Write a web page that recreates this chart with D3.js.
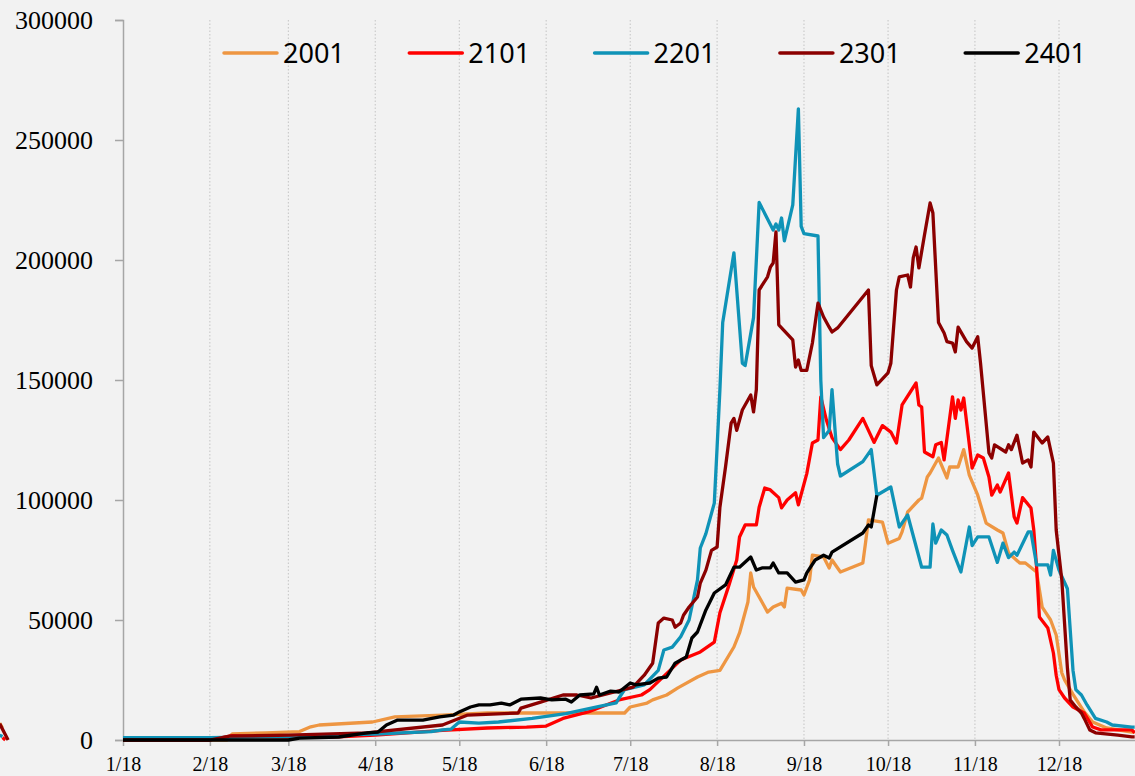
<!DOCTYPE html>
<html>
<head>
<meta charset="utf-8">
<script src="https://cdn.jsdelivr.net/npm/d3@7"></script>
<style>
  html, body { margin: 0; padding: 0; background: #f2f2f2; }
  svg { display: block; }
</style>
</head>
<body>
<svg id="chart" width="1135" height="776"></svg>
<script>
// ---------------- DATA ----------------
const seriesNames = ["2001", "2101", "2201", "2301", "2401"];
const seriesColors = ["#ee9642", "#ff0000", "#0f93b7", "#8b0000", "#000000"];

const tickDates = ["2023-01-18","2023-02-18","2023-03-18","2023-04-18","2023-05-18","2023-06-18",
                   "2023-07-18","2023-08-18","2023-09-18","2023-10-18","2023-11-18","2023-12-18"];
const tickLabels = ["1/18","2/18","3/18","4/18","5/18","6/18","7/18","8/18","9/18","10/18","11/18","12/18"];
const yTicks = [0, 50000, 100000, 150000, 200000, 250000, 300000];

// null marks a break in the line
const s2001 = [
  ["2022-12-05",7000],["2022-12-06",5000],null,
  ["2023-01-18",0],["2023-02-24",0],["2023-02-26",2500],["2023-03-10",3000],["2023-03-22",3500],
  ["2023-03-26",5500],["2023-03-29",6250],["2023-04-17",7500],["2023-04-25",9600],["2023-05-12",10400],
  ["2023-05-28",11250],["2023-06-11",11250],["2023-06-25",11250],["2023-07-04",11250],["2023-07-16",11250],
  ["2023-07-18",13750],["2023-07-24",15400],["2023-07-26",16700],["2023-07-31",18750],["2023-08-04",21700],
  ["2023-08-11",26250],["2023-08-15",28300],["2023-08-19",29000],["2023-08-24",38750],["2023-08-26",44600],
  ["2023-08-29",57500],["2023-08-30",69600],["2023-08-31",63750],["2023-09-05",53300],["2023-09-07",55400],
  ["2023-09-10",57000],["2023-09-11",55400],["2023-09-12",63300],["2023-09-17",62500],["2023-09-18",60400],
  ["2023-09-20",66700],["2023-09-21",77000],["2023-09-25",76250],["2023-09-27",71700],["2023-09-28",75000],
  ["2023-10-01",70000],["2023-10-09",73750],["2023-10-10",82500],["2023-10-11",91700],["2023-10-16",90800],
  ["2023-10-18",82000],["2023-10-22",84000],["2023-10-23",86700],["2023-10-25",95000],["2023-10-29",100000],
  ["2023-10-30",100800],["2023-11-01",109600],["2023-11-02",111250],["2023-11-05",117500],["2023-11-08",109200],
  ["2023-11-09",113750],["2023-11-12",113750],["2023-11-14",121000],["2023-11-16",110400],["2023-11-19",102000],
  ["2023-11-22",90400],["2023-11-26",87500],["2023-11-28",86250],["2023-11-30",77900],["2023-12-04",73750],
  ["2023-12-06",73750],["2023-12-10",70000],["2023-12-12",55400],["2023-12-15",50000],["2023-12-17",43750],
  ["2023-12-19",28000],["2023-12-20",25000],["2023-12-23",19000],["2023-12-27",11700],["2023-12-30",7500],
  ["2024-01-04",5000],["2024-01-13",3300],["2024-01-14",3300]
];

const s2101 = [
  ["2022-12-06",1000],["2022-12-07",0],null,
  ["2023-01-18",0],["2023-02-18",0],["2023-02-26",1800],["2023-03-18",1200],["2023-04-03",1200],
  ["2023-04-18",2000],["2023-05-12",4000],["2023-05-28",5000],["2023-06-11",5400],["2023-06-18",5800],
  ["2023-06-24",9000],["2023-07-03",11700],["2023-07-14",16700],["2023-07-22",18750],["2023-07-25",21000],
  ["2023-08-05",33300],["2023-08-12",36700],["2023-08-17",40800],["2023-08-19",53000],["2023-08-22",63700],
  ["2023-08-25",75000],["2023-08-26",84600],["2023-08-28",89600],["2023-09-01",89600],["2023-09-02",97000],
  ["2023-09-04",105000],["2023-09-06",104200],["2023-09-09",101000],["2023-09-10",96700],["2023-09-12",100000],
  ["2023-09-15",103000],["2023-09-16",98000],["2023-09-19",111000],["2023-09-21",123750],["2023-09-23",125000],
  ["2023-09-24",143000],["2023-09-26",133300],["2023-09-28",126000],["2023-10-01",121000],["2023-10-04",125000],
  ["2023-10-09",134000],["2023-10-13",124000],["2023-10-16",131000],["2023-10-19",128300],["2023-10-21",123750],
  ["2023-10-23",139600],["2023-10-28",148750],["2023-10-29",139600],["2023-10-30",138750],["2023-10-31",120000],
  ["2023-11-03",118000],["2023-11-04",123000],["2023-11-06",124000],["2023-11-07",116700],["2023-11-10",143000],
  ["2023-11-11",134000],["2023-11-12",141700],["2023-11-13",137500],["2023-11-14",142500],["2023-11-17",113300],
  ["2023-11-19",118750],["2023-11-21",117500],["2023-11-23",109600],["2023-11-24",102000],["2023-11-26",106250],
  ["2023-11-27",103300],["2023-11-30",111250],["2023-12-02",93000],["2023-12-03",90400],["2023-12-05",101000],
  ["2023-12-08",96700],["2023-12-09",87500],["2023-12-10",72000],["2023-12-11",51250],["2023-12-14",46700],
  ["2023-12-16",36250],["2023-12-17",27000],["2023-12-18",21000],["2023-12-20",17500],["2023-12-23",13750],
  ["2023-12-27",11250],["2023-12-30",5400],["2024-01-02",4200],["2024-01-13",4200],["2024-01-14",3000]
];

const s2201 = [
  ["2022-12-05",2000],["2022-12-06",1500],null,
  ["2023-01-18",1000],["2023-02-18",1000],["2023-03-18",1500],["2023-04-02",2000],["2023-04-18",2500],
  ["2023-05-08",3500],["2023-05-12",4200],["2023-05-15",4500],["2023-05-18",7500],["2023-05-25",7000],
  ["2023-06-01",7500],["2023-06-13",9000],["2023-06-25",11000],["2023-07-07",14000],["2023-07-13",15500],
  ["2023-07-14",17500],["2023-07-16",21000],["2023-07-23",23000],["2023-07-28",29000],["2023-07-30",37500],
  ["2023-08-02",38700],["2023-08-05",43000],["2023-08-08",50000],["2023-08-11",66700],["2023-08-12",80000],
  ["2023-08-14",86000],["2023-08-17",98700],["2023-08-18",122000],["2023-08-19",146000],["2023-08-20",174000],
  ["2023-08-24",203000],["2023-08-27",157000],["2023-08-28",156000],["2023-08-31",176000],["2023-09-02",224000],
  ["2023-09-07",212500],["2023-09-08",215000],["2023-09-09",212500],["2023-09-10",217500],["2023-09-11",208000],
  ["2023-09-14",223000],["2023-09-16",263000],["2023-09-17",214000],["2023-09-18",211000],["2023-09-23",210000],
  ["2023-09-24",150000],["2023-09-25",126000],["2023-09-27",129000],["2023-09-28",146000],["2023-09-30",115000],
  ["2023-10-01",110000],["2023-10-09",116000],["2023-10-12",121000],["2023-10-14",102000],["2023-10-19",105400],
  ["2023-10-22",88750],["2023-10-25",93750],["2023-10-30",72000],["2023-11-02",72000],["2023-11-03",90000],
  ["2023-11-04",82000],["2023-11-06",87500],["2023-11-08",85400],["2023-11-10",79000],["2023-11-13",70000],
  ["2023-11-16",88750],["2023-11-17",81000],["2023-11-19",84600],["2023-11-23",84600],["2023-11-26",74000],
  ["2023-11-28",82000],["2023-11-30",76000],["2023-12-02",78300],["2023-12-03",77000],["2023-12-07",86700],
  ["2023-12-08",86700],["2023-12-10",73000],["2023-12-14",73000],["2023-12-15",68750],["2023-12-16",79000],
  ["2023-12-18",70800],["2023-12-21",63000],["2023-12-23",29000],["2023-12-24",21000],["2023-12-26",18750],
  ["2023-12-28",14600],["2023-12-31",9000],["2024-01-04",7500],["2024-01-06",6250],["2024-01-13",5400],
  ["2024-01-14",5400]
];

const s2301 = [
  ["2022-12-05",6800],["2022-12-08",0],null,
  ["2023-01-18",0],["2023-02-18",0],["2023-02-25",1600],["2023-03-18",2000],["2023-04-15",3000],
  ["2023-05-12",6250],["2023-05-21",10400],["2023-06-08",11250],["2023-06-09",13300],["2023-06-16",15800],
  ["2023-06-24",18750],["2023-06-29",18750],["2023-07-04",17500],["2023-07-19",22000],["2023-07-23",27000],
  ["2023-07-26",32000],["2023-07-28",48750],["2023-07-30",50800],["2023-08-02",50000],["2023-08-03",47000],
  ["2023-08-05",48750],["2023-08-06",52000],["2023-08-08",55400],["2023-08-11",59600],["2023-08-12",65400],
  ["2023-08-14",70800],["2023-08-16",79000],["2023-08-18",80400],["2023-08-19",97000],["2023-08-21",113750],
  ["2023-08-23",132000],["2023-08-24",134000],["2023-08-25",129000],["2023-08-27",137500],["2023-08-30",143750],
  ["2023-08-31",136700],["2023-09-01",146000],["2023-09-02",187500],["2023-09-05",193000],["2023-09-06",197000],
  ["2023-09-07",198750],["2023-09-08",211700],["2023-09-09",173000],["2023-09-14",166700],["2023-09-15",155400],
  ["2023-09-16",158300],["2023-09-17",154000],["2023-09-19",154000],["2023-09-21",165400],["2023-09-23",182000],
  ["2023-09-25",176250],["2023-09-27",172000],["2023-09-28",170000],["2023-09-30",171700],["2023-10-11",187500],
  ["2023-10-12",156000],["2023-10-14",148000],["2023-10-18",153000],["2023-10-19",157000],["2023-10-21",187500],
  ["2023-10-22",193000],["2023-10-25",193750],["2023-10-26",188750],["2023-10-27",201000],["2023-10-28",205400],
  ["2023-10-29",196700],["2023-10-31",210400],["2023-11-02",223750],["2023-11-03",219600],["2023-11-05",174000],
  ["2023-11-07",169600],["2023-11-08",166000],["2023-11-10",165400],["2023-11-11",161700],["2023-11-12",172000],
  ["2023-11-15",166000],["2023-11-17",163300],["2023-11-19",168000],["2023-11-20",157000],["2023-11-23",119600],
  ["2023-11-24",117500],["2023-11-25",123000],["2023-11-29",120000],["2023-11-30",123000],["2023-12-01",121000],
  ["2023-12-03",127000],["2023-12-05",115400],["2023-12-07",116700],["2023-12-08",113750],["2023-12-09",128300],
  ["2023-12-12",123750],["2023-12-14",126250],["2023-12-16",115400],["2023-12-17",87500],["2023-12-19",66700],
  ["2023-12-21",30000],["2023-12-22",16700],["2023-12-24",13750],["2023-12-26",11250],["2023-12-27",9000],
  ["2023-12-29",4200],["2023-12-31",3000],["2024-01-08",2000],["2024-01-13",1300],["2024-01-14",1300]
];

const s2401 = [
  ["2023-01-18",0],["2023-03-18",0],["2023-03-22",800],["2023-04-05",1250],["2023-04-15",3000],
  ["2023-04-19",3300],["2023-04-22",6250],["2023-04-26",8300],["2023-05-05",8300],["2023-05-11",9600],
  ["2023-05-16",10400],["2023-05-18",11700],["2023-05-22",13750],["2023-05-25",14600],["2023-05-29",14600],
  ["2023-06-02",15400],["2023-06-05",14600],["2023-06-09",17000],["2023-06-16",17500],["2023-06-20",16700],
  ["2023-06-25",17000],["2023-06-27",15800],["2023-06-30",18750],["2023-07-05",19200],["2023-07-06",22000],
  ["2023-07-07",18750],["2023-07-11",20400],["2023-07-14",20000],["2023-07-18",23750],["2023-07-20",23000],
  ["2023-07-25",23750],["2023-07-28",25800],["2023-07-31",26250],["2023-08-03",32000],["2023-08-07",34600],
  ["2023-08-09",42500],["2023-08-11",45000],["2023-08-14",54200],["2023-08-17",61250],["2023-08-21",64600],
  ["2023-08-24",72000],["2023-08-26",72000],["2023-08-30",76250],["2023-09-01",70800],["2023-09-03",71700],
  ["2023-09-06",71700],["2023-09-07",73750],["2023-09-09",69600],["2023-09-12",69600],["2023-09-15",65800],
  ["2023-09-18",66700],["2023-09-19",69600],["2023-09-22",75000],["2023-09-25",77000],["2023-09-27",75800],
  ["2023-09-28",78300],["2023-10-09",86250],["2023-10-11",89600],["2023-10-12",88750],["2023-10-14",102000]
];

const allSeries = [s2001, s2101, s2201, s2301, s2401];

// ---------------- DRAW ----------------
const svg = d3.select("#chart");
const W = 1135, H = 776;
const parse = d3.utcParse("%Y-%m-%d");

svg.append("rect").attr("width", W).attr("height", H).attr("fill", "#f2f2f2");

const x = d3.scaleUtc()
  .domain([parse(tickDates[0]), parse(tickDates[tickDates.length - 1])])
  .range([123, 1059]);
const y = d3.scaleLinear().domain([0, 300000]).range([740, 20]);

// vertical dotted grid lines
svg.append("g").selectAll("line")
  .data(tickDates.slice(1))
  .join("line")
  .attr("x1", d => x(parse(d))).attr("x2", d => x(parse(d)))
  .attr("y1", y(300000)).attr("y2", y(0))
  .attr("stroke", "#c4c4c4").attr("stroke-width", 1)
  .attr("stroke-dasharray", "1.5,2");

// y axis
const yAxis = svg.append("g")
  .attr("transform", `translate(${x(parse(tickDates[0]))},0)`)
  .call(d3.axisLeft(y).tickValues(yTicks).tickSize(8).tickPadding(22).tickFormat(d3.format("d")));
yAxis.select(".domain").attr("stroke", "#a6a6a6").attr("stroke-width", 1.5);
yAxis.selectAll(".tick line").attr("stroke", "#a6a6a6").attr("stroke-width", 1.5);
yAxis.selectAll(".tick text")
  .attr("fill", "#000").style("font-family", "'Liberation Serif','Times New Roman',serif")
  .style("font-size", "26px");

// x axis
const xAxis = svg.append("g")
  .attr("transform", `translate(0,${y(0)})`)
  .call(d3.axisBottom(x).tickValues(tickDates.map(parse)).tickSize(6).tickPadding(11)
    .tickFormat((d, i) => tickLabels[i]));
xAxis.select(".domain").attr("stroke", "#a6a6a6").attr("stroke-width", 1.5)
  .attr("d", `M${x(parse(tickDates[0]))},0.5H${W}`);
xAxis.selectAll(".tick line").attr("stroke", "#a6a6a6").attr("stroke-width", 1.5);
xAxis.selectAll(".tick text")
  .attr("fill", "#000").style("font-family", "'Liberation Serif','Times New Roman',serif")
  .style("font-size", "20px");

// lines
const line = d3.line()
  .defined(d => d !== null)
  .x(d => x(parse(d[0])))
  .y(d => y(d[1]));

svg.append("g").selectAll("path")
  .data(allSeries)
  .join("path")
  .attr("d", line)
  .attr("fill", "none")
  .attr("stroke", (d, i) => seriesColors[i])
  .attr("stroke-width", 3.3)
  .attr("stroke-linejoin", "round");

// legend
const legend = svg.append("g");
seriesNames.forEach((name, i) => {
  const lx = 224 + i * 185.3;
  const g = legend.append("g").attr("transform", `translate(${lx},53)`);
  g.append("line").attr("x1", 0).attr("x2", 53).attr("y1", 0).attr("y2", 0)
    .attr("stroke", seriesColors[i]).attr("stroke-width", 3.5).attr("stroke-linecap", "round");
  g.append("text").attr("x", 59).attr("y", 10)
    .text(name)
    .style("font-family", "'Noto Sans','Open Sans',sans-serif")
    .style("font-size", "27px").attr("fill", "#000");
});
</script>
</body>
</html>
